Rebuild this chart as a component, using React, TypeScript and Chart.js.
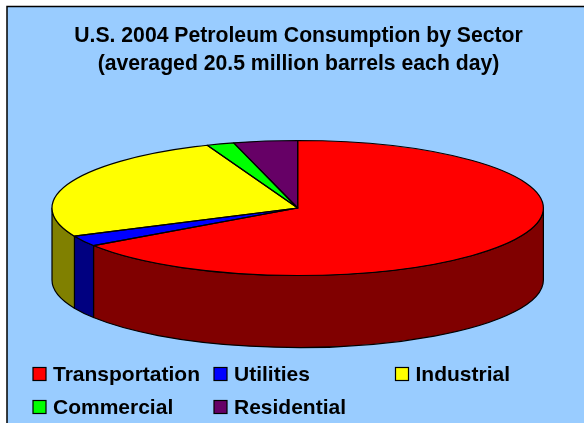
import React, { useEffect, useRef } from "react";
import { Chart, registerables } from "chart.js";

Chart.register(...registerables);

const titleLines = ["U.S. 2004 Petroleum Consumption by Sector", "(averaged 20.5 million barrels each day)"];
const sectors = ["Transportation", "Utilities", "Industrial", "Commercial", "Residential"];
const millionBarrels = [13.45, 0.52, 5.3, 0.37, 0.86];
const topColors = ["#FF0000", "#0000FF", "#FFFF00", "#00FF00", "#660066"];
const sideColors = ["#800000", "#000080", "#808000", "#008000", "#330033"];

const FONT = '"Liberation Sans", Arial, sans-serif';
const CX = 297.7;
const CY = 208;
const RX = 245.7;
const RY = 67.5;
const DEPTH = 72;
const legendSlots = [
  [33, 374],
  [214, 374],
  [395.5, 374],
  [33, 407],
  [214, 407],
];

const backdrop = {
  id: "backdrop",
  beforeDraw(chart: any) {
    const { ctx, width, height } = chart;
    ctx.save();
    ctx.fillStyle = "#99CCFF";
    ctx.strokeStyle = "#000000";
    ctx.lineWidth = 1.5;
    ctx.beginPath();
    ctx.rect(7, 6.5, width + 20, height + 20);
    ctx.fill();
    ctx.stroke();
    ctx.restore();
  },
};

const pie3d = {
  id: "pie3d",
  beforeDatasetDraw(chart: any) {
    const { ctx } = chart;
    const arcs = chart.getDatasetMeta(0).data;
    const first = arcs[0];
    // walls of the disc, built from the angles the library computed
    ctx.save();
    ctx.lineWidth = 1.2;
    ctx.strokeStyle = "#000000";
    ctx.lineJoin = "round";
    arcs.forEach((arc: any, i: number) => {
      const pieces = [
        [arc.startAngle, arc.endAngle],
        [arc.startAngle - 2 * Math.PI, arc.endAngle - 2 * Math.PI],
      ];
      pieces.forEach(([s, e]) => {
        const a = Math.max(s, 0);
        const b = Math.min(e, Math.PI);
        if (b <= a) return;
        ctx.beginPath();
        ctx.ellipse(CX, CY, RX, RY, 0, a, b, false);
        ctx.lineTo(CX + RX * Math.cos(b), CY + DEPTH + RY * Math.sin(b));
        ctx.ellipse(CX, CY + DEPTH, RX, RY, 0, b, a, true);
        ctx.closePath();
        ctx.fillStyle = sideColors[i];
        ctx.fill();
        ctx.stroke();
      });
    });
    ctx.restore();
    // top face: library-drawn arcs squashed into the ellipse
    const r = first.outerRadius;
    ctx.save();
    ctx.translate(CX, CY);
    ctx.scale(RX / r, RY / r);
    ctx.translate(-first.x, -first.y);
  },
  afterDatasetDraw(chart: any) {
    const { ctx } = chart;
    ctx.restore();
    const arcs = chart.getDatasetMeta(0).data;
    ctx.save();
    ctx.lineWidth = 1.2;
    ctx.strokeStyle = "#000000";
    ctx.lineJoin = "round";
    arcs.forEach((arc: any) => {
      ctx.beginPath();
      ctx.moveTo(CX, CY);
      ctx.ellipse(CX, CY, RX, RY, 0, arc.startAngle, arc.endAngle, false);
      ctx.closePath();
      ctx.stroke();
    });
    ctx.restore();
  },
};

const gridLegend = {
  id: "gridLegend",
  afterDraw(chart: any) {
    const { ctx } = chart;
    const labels = chart.data.labels as string[];
    const colors = chart.data.datasets[0].backgroundColor as string[];
    ctx.save();
    ctx.font = `bold 21px ${FONT}`;
    ctx.textBaseline = "middle";
    ctx.textAlign = "left";
    labels.forEach((label, i) => {
      const [x, y] = legendSlots[i];
      ctx.fillStyle = colors[i];
      ctx.strokeStyle = "#000000";
      ctx.lineWidth = 1.2;
      ctx.fillRect(x, y - 6.5, 13, 13);
      ctx.strokeRect(x, y - 6.5, 13, 13);
      ctx.fillStyle = "#000000";
      ctx.fillText(label, x + 20, y + 1);
    });
    ctx.restore();
  },
};

export default function App() {
  const ref = useRef<HTMLCanvasElement>(null);
  useEffect(() => {
    document.body.style.margin = "0";
    document.body.style.background = "#ffffff";
    const chart = new Chart(ref.current!, {
      type: "pie",
      data: {
        labels: sectors,
        datasets: [
          {
            data: millionBarrels,
            backgroundColor: topColors,
            borderWidth: 0,
            clip: false,
          } as any,
        ],
      },
      options: {
        responsive: false,
        animation: false,
        layout: { padding: { top: 22, left: 13 } },
        plugins: {
          legend: { display: false },
          tooltip: { enabled: false },
          title: {
            display: true,
            text: titleLines,
            color: "#000000",
            fullSize: false,
            font: { family: FONT, size: 21.2, weight: "bold", lineHeight: 1.33 },
            padding: { top: 0, bottom: 10 },
          },
        },
      },
      plugins: [backdrop, pie3d, gridLegend],
    });
    return () => chart.destroy();
  }, []);
  return <canvas ref={ref} width={584} height={423} style={{ display: "block" }} />;
}
